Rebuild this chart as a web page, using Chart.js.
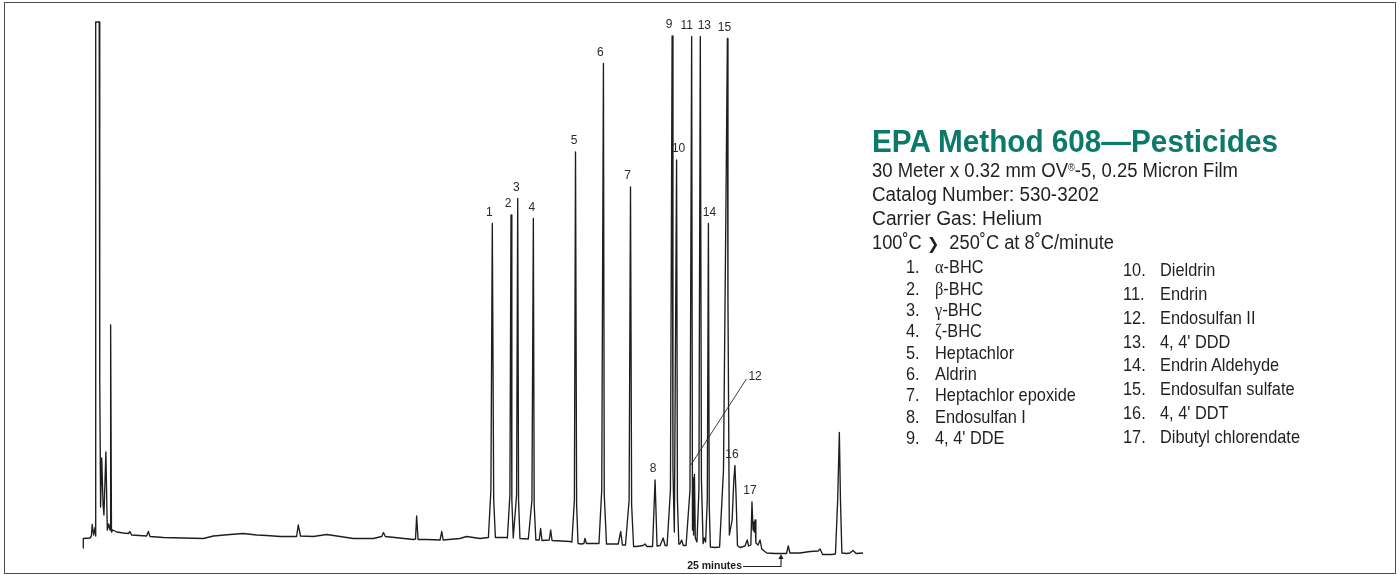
<!DOCTYPE html>
<html><head><meta charset="utf-8">
<script src="https://cdn.jsdelivr.net/npm/chart.js@4.4.1/dist/chart.umd.min.js"></script>
<style>
html,body{margin:0;padding:0;background:#fff;}
#wrap{position:relative;width:1400px;height:575px;overflow:hidden;background:#fff;}
#c{position:absolute;left:0;top:0;}
#panel{position:absolute;left:0;top:0;}
#frame{position:absolute;left:4px;top:2px;width:1392px;height:572px;border:1.5px solid #4a4a4a;box-sizing:border-box;pointer-events:none;}
</style></head>
<body>
<div id="wrap">
<canvas id="c" width="1400" height="575"></canvas>
<svg id="panel" xmlns="http://www.w3.org/2000/svg" width="1400" height="575"></svg>
<div id="frame"></div>
</div>
<script>
// ---- data (retention time in minutes, relative detector response) ----
const retentionTime = [
 0.00,0.01,0.25,0.30,0.33,0.38,0.43,0.45,0.46,0.58,0.60,0.63,0.67,0.72,0.75,0.82,0.87,0.92,0.97,0.99,
 1.02,1.07,1.21,1.44,1.63,1.68,1.74,2.28,2.34,2.40,2.88,4.31,4.67,5.27,5.74,6.22,6.58,7.06,7.65,7.71,
 7.79,8.25,8.73,9.21,9.68,10.40,10.70,10.76,10.83,11.83,11.91,11.95,12.00,12.31,12.79,12.85,12.90,13.50,13.74,14.22,
 14.52,14.61,14.66,14.71,14.77,15.18,15.20,15.29,15.33,15.36,15.41,15.53,15.57,15.60,15.65,15.95,16.08,16.13,16.16,16.22,
 16.34,16.39,16.44,16.70,16.75,16.80,17.44,17.51,17.60,17.64,17.68,17.73,17.86,17.94,17.98,18.03,18.40,18.48,18.58,18.64,
 18.67,18.75,19.17,19.26,19.32,19.43,19.56,19.61,19.65,19.72,19.83,20.06,20.13,20.20,20.40,20.49,20.56,20.67,20.78,20.85,
 20.92,21.04,21.10,21.13,21.18,21.26,21.29,21.34,21.38,21.44,21.50,21.60,21.74,21.80,21.83,21.85,21.87,21.90,21.93,21.99,
 22.06,22.11,22.15,22.21,22.25,22.30,22.36,22.40,22.43,22.47,22.64,22.80,22.94,23.03,23.08,23.10,23.15,23.25,23.31,23.35,
 23.39,23.44,23.53,23.71,23.79,23.84,23.92,23.96,24.00,24.02,24.04,24.07,24.10,24.18,24.25,24.31,24.49,24.79,25.00,25.20,
 25.26,25.32,25.68,26.04,26.33,26.40,26.49,26.82,26.95,27.03,27.09,27.13,27.18,27.35,27.47,27.58,27.69,27.94
];
const response = [
 -0.6,1.3,1.4,1.8,4.1,2.0,3.5,1.8,104.6,104.6,33,7.6,17.4,8,6,18.6,3,4.2,3,44,
 2.6,3,2.6,2.4,2.3,2.7,2.0,1.8,2.7,1.7,1.5,1.3,1.8,2.1,2.3,2.0,1.9,1.7,1.7,4.0,
 1.8,1.7,2.1,1.7,1.3,1.3,1.7,2.5,1.7,1.1,1.2,5.8,1.1,1.1,1.0,2.7,1.0,1.3,1.7,1.3,
 1.5,11,64.3,9,1.5,1.5,1.4,10,66,9,1.4,10,69.3,9,1.3,1.2,9,65.3,8,1.0,
 1.0,3.3,0.9,1.0,3.0,0.9,0.7,0.6,9,78.6,8,0.3,0.2,0.3,1.3,0.3,0.3,0.3,11,96.3,
 10,0.2,0.2,2.7,0,0,9,71.6,8,-0.3,-0.3,-0.1,0.2,-0.3,-0.3,13,-0.2,-0.1,1.4,-0.1,
 -0.1,11,101.8,15,2.6,77,9,0.2,0.2,1.0,-0.1,-0.1,11,101.7,3,13.4,2,14.1,1.4,0.6,
 11,101.7,13,0.3,1.4,0.6,9,64.3,8,-0.4,-0.5,-0.4,15,69,101.3,49,2,5,13,15.9,
 10,-0.1,-0.5,-0.2,1.0,-0.2,0,8.6,3,4.6,2.6,5,0.4,0,1.0,-0.8,-1.6,-1.7,-1.7,-1.7,
 -0.2,-1.6,-1.6,-1.3,-1.2,-0.8,-1.9,-1.9,-1.8,9,22.5,9,-1.6,-1.7,-1.6,-1.1,-1.7,-1.6
];
const peakNumbers   = [1,2,3,4,5,6,7,8,9,10,11,12,13,14,15,16,17];
const peakApexTimes = [14.66,15.33,15.57,16.13,17.64,18.64,19.61,20.49,21.10,21.26,21.80,21.90,22.11,22.40,23.08,23.35,23.96];
const compoundNames = ['α-BHC','β-BHC','γ-BHC','ζ-BHC','Heptachlor','Aldrin','Heptachlor epoxide','Endosulfan I',"4, 4' DDE",
  'Dieldrin','Endrin','Endosulfan II',"4, 4' DDD",'Endrin Aldehyde','Endosulfan sulfate',"4, 4' DDT",'Dibutyl chlorendate'];
const titleText = 'EPA Method 608—Pesticides';
const conditionLines = ['30 Meter x 0.32 mm OV®-5, 0.25 Micron Film','Catalog Number: 530-3202','Carrier Gas: Helium','100˚C ❯  250˚C at 8˚C/minute'];
const markerTime = 25;
const markerLabel = '25 minutes';

// ---- layout / style ----
const labelNudge = {1:-3,2:-3,3:-1.5,4:-1.5,5:-1.5,6:-3,7:-3,8:-2,9:-3,10:2,11:-5,13:4,14:1,15:-3,16:-3,17:-2};
const leader12 = {from:{x:21.77,y:16}, to:{x:23.76,y:33.2}};
const INK = '#1e1e1e';

const annotations = {
  id:'peakAnnotations',
  afterDatasetsDraw(chart){
    const ctx = chart.ctx, xs = chart.scales.x, ys = chart.scales.y;
    const pts = chart.data.datasets[0].data;
    ctx.save();
    ctx.fillStyle = '#2a2a2a';
    ctx.font = '12px "Liberation Sans", Arial, sans-serif';
    ctx.textAlign = 'center';
    ctx.textBaseline = 'alphabetic';
    peakNumbers.forEach((n,i)=>{
      if(n===12) return;
      const t = peakApexTimes[i];
      let best = null;
      pts.forEach(p=>{ if(Math.abs(p.x-t)<=0.031 && (!best || p.y>best.y)) best = p; });
      const px = xs.getPixelForValue(best.x), py = ys.getPixelForValue(best.y);
      ctx.fillText(String(n), px + (labelNudge[n]||0), py - 8);
    });
    // leader for peak 12
    const fx = xs.getPixelForValue(leader12.from.x), fy = ys.getPixelForValue(leader12.from.y);
    const tx = xs.getPixelForValue(leader12.to.x),   ty = ys.getPixelForValue(leader12.to.y);
    ctx.strokeStyle = '#2a2a2a'; ctx.lineWidth = 0.9;
    ctx.beginPath(); ctx.moveTo(fx,fy); ctx.lineTo(tx,ty); ctx.stroke();
    ctx.textAlign = 'left';
    ctx.fillText('12', tx + 2, ty + 1);
    // 25 minute marker
    let near = pts.reduce((a,p)=> Math.abs(p.x-markerTime)<Math.abs(a.x-markerTime)?p:a, pts[0]);
    const mx = xs.getPixelForValue(markerTime);
    const tipY = ys.getPixelForValue(near.y) + 0.5;
    const baseY = 566.5;
    ctx.strokeStyle = INK; ctx.lineWidth = 1.1;
    ctx.beginPath();
    ctx.moveTo(mx, tipY + 3); ctx.lineTo(mx, baseY); ctx.lineTo(mx - 38, baseY);
    ctx.stroke();
    ctx.fillStyle = INK;
    ctx.beginPath(); ctx.moveTo(mx, tipY); ctx.lineTo(mx-2.6, tipY+5); ctx.lineTo(mx+2.6, tipY+5); ctx.closePath(); ctx.fill();
    ctx.font = 'bold 10.5px "Liberation Sans", Arial, sans-serif';
    ctx.textAlign = 'right'; ctx.textBaseline = 'middle';
    ctx.fillText(markerLabel, mx - 39, baseY);
    ctx.restore();
  }
};

new Chart(document.getElementById('c'), {
  type:'line',
  data:{datasets:[{
    data: retentionTime.map((t,i)=>({x:t, y:response[i]})),
    borderColor: INK, borderWidth: 1.35, pointRadius: 0, tension: 0, fill: false,
    borderJoinStyle: 'round', clip: false
  }]},
  options:{
    responsive:false, animation:false, devicePixelRatio:1,
    layout:{padding:0},
    scales:{
      x:{type:'linear', display:false, min:-2.9728, max:47.1705},
      y:{type:'linear', display:false, min:-6, max:109}
    },
    plugins:{legend:{display:false}, tooltip:{enabled:false}}
  },
  plugins:[annotations]
});

// ---- text panel (real SVG text) ----
const NS = 'http://www.w3.org/2000/svg';
const svg = document.getElementById('panel');
const BODY_FONT = '"Liberation Sans Narrow","Arial Narrow","Liberation Sans",Arial,sans-serif';
function fillSegments(el, str){
  let pendingDy = null;
  str.split(/(®|❯|[αβγζ])/).forEach(seg=>{
    if(!seg) return;
    const ts = document.createElementNS(NS,'tspan');
    if(pendingDy !== null){ ts.setAttribute('dy', pendingDy); pendingDy = null; }
    if(seg==='®'){ ts.setAttribute('font-size','10'); ts.setAttribute('dy','-6'); pendingDy = '6'; }
    else if(seg==='❯'){ ts.setAttribute('font-family','"DejaVu Sans",sans-serif'); ts.setAttribute('font-weight','bold'); ts.setAttribute('font-size','16'); }
    else if(/[αβγζ]/.test(seg)){ ts.setAttribute('font-family','"Liberation Serif","DejaVu Serif",serif'); }
    ts.textContent = seg;
    el.appendChild(ts);
  });
}
function addText(str, x, y, opts){
  const t = document.createElementNS(NS,'text');
  t.setAttribute('transform',`translate(${x} ${y})`);
  t.setAttribute('x',0); t.setAttribute('y',0);
  t.setAttribute('font-family', BODY_FONT);
  t.setAttribute('font-size', opts.size);
  t.setAttribute('fill', opts.fill || '#231f20');
  if(opts.weight) t.setAttribute('font-weight', opts.weight);
  if(opts.width){ t.setAttribute('textLength', opts.width); t.setAttribute('lengthAdjust','spacingAndGlyphs'); }
  t.setAttribute('xml:space','preserve');
  t.style.whiteSpace = 'pre';
  fillSegments(t, str);
  svg.appendChild(t);
  t._pos = {x, y};
  return t;
}
function condense(t, sx){
  t.setAttribute('transform',`translate(${t._pos.x} ${t._pos.y}) scale(${sx} 1)`);
}
addText(titleText, 872, 151.7, {size:31, weight:'bold', fill:'#0b7a6b', width:406});
const condBase = [177.3, 201, 225, 249];
const condWidth = [366, 227, 170, 242];
conditionLines.forEach((s,i)=> addText(s, 872, condBase[i], {size:20, width:condWidth[i]}));
const listEls = [];
compoundNames.forEach((name,i)=>{
  const left = i < 9;
  const row = left ? i : i - 9;
  const y = left ? 273.3 + row*21.33 : 275.7 + row*23.94;
  listEls.push(addText(peakNumbers[i] + '.', left ? 906 : 1123, y, {size:18.5}));
  listEls.push(addText(name, left ? 935 : 1160, y, {size:18.5}));
});
// condense list glyphs so that "Heptachlor epoxide" matches its width in the reference (~141 px)
const ref = listEls[2*6+1];
const sx = 141 / ref.getComputedTextLength();
listEls.forEach(t => condense(t, sx));
</script>
</body></html>
